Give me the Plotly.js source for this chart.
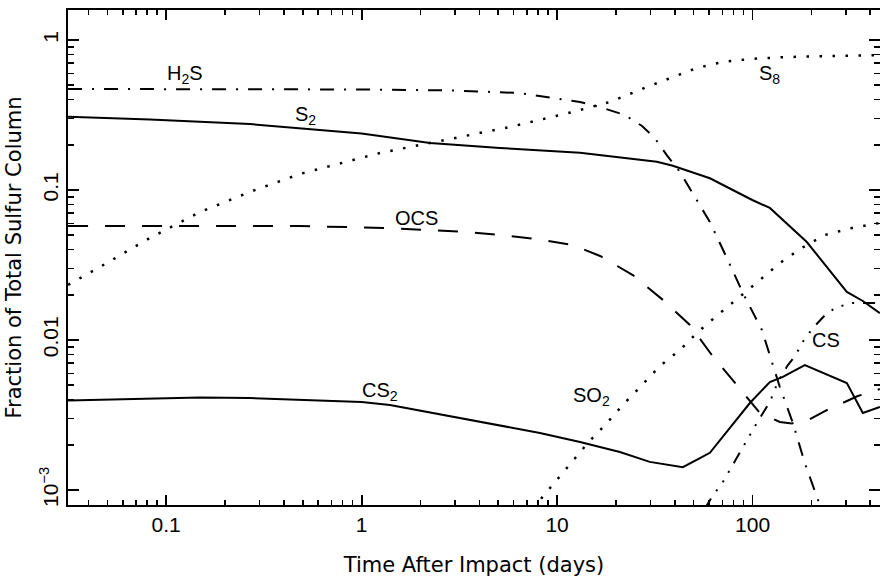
<!DOCTYPE html>
<html>
<head>
<meta charset="utf-8">
<script src="https://cdn.plot.ly/plotly-3.0.1.min.js"></script>
<style>html,body{margin:0;padding:0;background:#fff;}#chart{width:880px;height:583px;}</style>
</head>
<body>
<div id="chart"></div>
<script>
// ---- data ----
var h2sX = [0.0315, 0.0826, 0.268, 1, 2.83, 6.45, 9.19, 13.1, 16.6, 22.2, 27.2, 31.6, 36.4, 42.5, 50.7, 60.5, 73.9, 89.2, 111.6, 137.9, 160.8, 185.1, 221, 226];
var h2sY = [0.4715, 0.4715, 0.4715, 0.468, 0.461, 0.443, 0.4135, 0.386, 0.357, 0.316, 0.267, 0.222, 0.171, 0.132, 0.0898, 0.0612, 0.0352, 0.0206, 0.01166, 0.00486, 0.0028, 0.00151, 0.000794, 0.0007];

var s2X = [0.0315, 0.0826, 0.268, 0.484, 1, 2.24, 5.10, 13.1, 32.4, 39.1, 60.5, 99.7, 122.6, 189.5, 239.9, 303.6, 366.6, 448];
var s2Y = [0.308, 0.295, 0.275, 0.259, 0.238, 0.206, 0.1905, 0.1773, 0.1544, 0.1452, 0.1197, 0.0858, 0.0759, 0.045, 0.0307, 0.0209, 0.0182, 0.0151];

var s8X = [0.0315, 0.0459, 0.0826, 0.149, 0.268, 0.484, 1.24, 3.18, 5.74, 12.0, 18.6, 28.8, 39.1, 51.9, 70.5, 96.9, 149.8, 289.7, 448];
var s8Y = [0.0233, 0.0307, 0.0479, 0.0713, 0.097, 0.128, 0.1765, 0.2256, 0.263, 0.331, 0.386, 0.486, 0.567, 0.651, 0.714, 0.747, 0.770, 0.782, 0.794];

var ocsX = [0.0315, 0.484, 1.347, 3.18, 5.10, 7.88, 12.0, 16.6, 24.4, 34.8, 47.8, 61.9, 83.1, 109, 137.9, 158.9, 196.4, 234.4, 345.6, 448];
var ocsY = [0.0575, 0.0575, 0.0558, 0.0529, 0.0501, 0.0471, 0.043, 0.0363, 0.0271, 0.0185, 0.0126, 0.00794, 0.00501, 0.00326, 0.00284, 0.00278, 0.00297, 0.00336, 0.00423, 0.00471];

var cs2X = [0.0315, 0.0826, 0.149, 0.268, 0.484, 1, 1.396, 2.83, 5.10, 8.17, 13.1, 20.95, 29.8, 44.0, 53.8, 60.5, 96.9, 122.6, 142.9, 185.1, 303.6, 366.6, 448];
var cs2Y = [0.00395, 0.00407, 0.00414, 0.0041, 0.00401, 0.00386, 0.00369, 0.00311, 0.00267, 0.0024, 0.00209, 0.00179, 0.00154, 0.00142, 0.00163, 0.00177, 0.0038, 0.00525, 0.00567, 0.00681, 0.00517, 0.00326, 0.00358];

var so2X = [7.5, 9.52, 11.77, 14.37, 17.77, 21.7, 27.2, 33.6, 42.5, 52.5, 66.4, 86.1, 109, 137.9, 178.8, 234.4, 322, 448];
var so2Y = [0.00075, 0.00108, 0.00151, 0.00206, 0.00275, 0.00369, 0.00501, 0.00671, 0.00858, 0.0113, 0.0147, 0.0194, 0.0251, 0.0326, 0.0411, 0.0501, 0.0558, 0.0603];

var csX = [57, 61.9, 70.5, 83.1, 94.6, 105.2, 122.6, 134.7, 151.6, 166.5, 178.8, 203.4, 239.9, 272.8, 322, 393.5, 448];
var csY = [0.00075, 0.000898, 0.00113, 0.00163, 0.00222, 0.0028, 0.00386, 0.00525, 0.00681, 0.00794, 0.00955, 0.012, 0.0151, 0.0166, 0.01765, 0.01765, 0.01765];

var xTickVals = [0.1, 1, 10, 100];
var xTickText = ['0.1', '1', '10', '100'];
var xMinorVals = [0.04,0.05,0.06,0.07,0.08,0.09, 0.2,0.3,0.4,0.5,0.6,0.7,0.8,0.9, 2,3,4,5,6,7,8,9, 20,30,40,50,60,70,80,90, 200,300,400];
var yTickVals = [0.001, 0.01, 0.1, 1];
var yTickText = ['10<sup>\u22123</sup>', '0.01', '0.1', '1'];
var yMinorVals = [0.002,0.003,0.004,0.005,0.006,0.007,0.008,0.009, 0.02,0.03,0.04,0.05,0.06,0.07,0.08,0.09, 0.2,0.3,0.4,0.5,0.6,0.7,0.8,0.9];

var curveLabels = ['H<sub>2</sub>S', 'S<sub>2</sub>', 'S<sub>8</sub>', 'OCS', 'CS<sub>2</sub>', 'SO<sub>2</sub>', 'CS'];
var labelX = [0.1441, 0.2931, 0.8645, 0.4298, 0.3842, 0.6453, 0.9335];
var labelY = [0.8707, 0.7859, 0.8687, 0.5808, 0.2283, 0.2182, 0.3333];

// ---- styles ----
function tr(x, y, dash, w) {
  return {x: x, y: y, type: 'scatter', mode: 'lines', hoverinfo: 'skip',
          line: {color: '#000', width: w || 2, dash: dash}};
}
var dashDot = '14px,10px,2px,10px';
var dashed = '20px,17px';
var dotted = '2.5px,10.5px';
var dash3dot = '12px,9px,2px,9px,2px,9px,2px,9px';

var traces = [
  tr(h2sX, h2sY, dashDot),
  tr(s2X, s2Y, 'solid'),
  tr(s8X, s8Y, dotted, 2.5),
  tr(ocsX, ocsY, dashed),
  tr(cs2X, cs2Y, 'solid'),
  tr(so2X, so2Y, dotted, 2.5),
  tr(csX, csY, dash3dot),
  // off-range helper trace so the top/right tick axes get drawn
  {x: [1e-5], y: [1e-6], type: 'scatter', mode: 'markers', marker: {opacity: 0}, xaxis: 'x2', yaxis: 'y2', hoverinfo: 'skip'}
];

var annotations = curveLabels.map(function (t, i) {
  return {text: t, x: labelX[i], y: labelY[i], xref: 'paper', yref: 'paper',
          xanchor: 'center', yanchor: 'middle', showarrow: false,
          font: {family: 'Liberation Sans, Arial, sans-serif', size: 20, color: '#000'}};
});

var tickFont = {family: 'Liberation Sans, Arial, sans-serif', size: 21, color: '#000'};
var titleFont = {family: 'DejaVu Sans, sans-serif', size: 21, color: '#000'};
var xRange = [-1.502, 2.652];
var yRange = [-3.1, 0.2];

function minorX() { return {tickmode: 'array', tickvals: xMinorVals, ticks: 'inside', ticklen: 5, tickwidth: 1.5, tickcolor: '#000', showgrid: false}; }
function minorY() { return {tickmode: 'array', tickvals: yMinorVals, ticks: 'inside', ticklen: 6, tickwidth: 1.5, tickcolor: '#000', showgrid: false}; }

var layout = {
  width: 880, height: 583,
  margin: {l: 68, r: 0, t: 10, b: 78},
  paper_bgcolor: '#fff', plot_bgcolor: '#fff',
  showlegend: false,
  xaxis: {
    type: 'log', range: xRange, autorange: false,
    showline: true, linecolor: '#000', linewidth: 2, mirror: true,
    ticks: 'inside', ticklen: 10, tickwidth: 1.8, tickcolor: '#000',
    tickmode: 'array', tickvals: xTickVals, ticktext: xTickText,
    tickfont: tickFont, showgrid: false, zeroline: false,
    minor: minorX(),
    title: {text: 'Time After Impact (days)', font: titleFont, standoff: 22}
  },
  yaxis: {
    type: 'log', range: yRange, autorange: false,
    showline: true, linecolor: '#000', linewidth: 2, mirror: true,
    ticks: 'inside', ticklen: 11, tickwidth: 1.8, tickcolor: '#000',
    tickmode: 'array', tickvals: yTickVals, ticktext: yTickText, tickangle: -90,
    tickfont: tickFont, showgrid: false, zeroline: false,
    minor: minorY(),
    title: {text: 'Fraction of Total Sulfur Column', font: titleFont, standoff: 8}
  },
  xaxis2: {
    type: 'log', range: xRange, autorange: false, overlaying: 'x', side: 'top', anchor: 'y',
    showline: false, ticks: 'inside', ticklen: 10, tickwidth: 1.8, tickcolor: '#000',
    tickmode: 'array', tickvals: xTickVals, showticklabels: false,
    showgrid: false, zeroline: false, minor: minorX()
  },
  yaxis2: {
    type: 'log', range: yRange, autorange: false, overlaying: 'y', side: 'right', anchor: 'x',
    showline: false, ticks: 'inside', ticklen: 11, tickwidth: 1.8, tickcolor: '#000',
    tickmode: 'array', tickvals: yTickVals, showticklabels: false,
    showgrid: false, zeroline: false, minor: minorY()
  },
  annotations: annotations
};

Plotly.newPlot('chart', traces, layout, {displayModeBar: false, staticPlot: true});
</script>
</body>
</html>
